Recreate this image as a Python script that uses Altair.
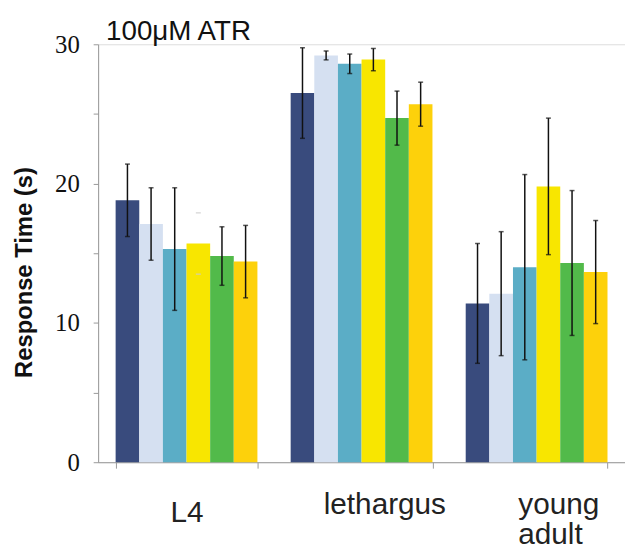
import altair as alt
import pandas as pd

groups = ["L4", "lethargus", "young adult"]
series = ["s1", "s2", "s3", "s4", "s5", "s6"]
colors = ["#394B7D", "#D5E0F1", "#5BADC6", "#F8E600", "#52BA4A", "#FDD10B"]

mean_l4 = [18.8, 17.1, 15.3, 15.7, 14.8, 14.4]
mean_leth = [26.5, 29.2, 28.6, 28.9, 24.7, 25.7]
mean_ya = [11.4, 12.1, 14.0, 19.8, 14.3, 13.65]

err_l4 = [2.6, 2.6, 4.4, 2.2, 2.1, 2.6]
err_leth = [3.25, 0.32, 0.7, 0.8, 1.94, 1.58]
err_ya = [4.3, 4.45, 6.65, 4.9, 5.2, 3.7]

rows = []
for g, ms, es in zip(groups, [mean_l4, mean_leth, mean_ya], [err_l4, err_leth, err_ya]):
    for s, m, e in zip(series, ms, es):
        rows.append({"group": g, "series": s, "mean": m, "lo": m - e, "hi": m + e})
df = pd.DataFrame(rows)

x = alt.X(
    "group:N",
    sort=groups,
    scale=alt.Scale(paddingInner=0.19, paddingOuter=0.1),
    axis=alt.Axis(
        title=None,
        labelAngle=0,
        domainColor="#999999",
        tickColor="#999999",
        tickSize=6,
        tickBand="extent",
        labelFont="Liberation Sans",
        labelFontSize=30,
        labelColor="#222222",
        labelBaseline="top",
        labelLineHeight=30,
        labelExpr="datum.label == 'young adult' ? ['young', 'adult'] : datum.label",
        labelAlign={"condition": {"test": "datum.value == 'young adult'", "value": "left"}, "value": "center"},
        labelOffset={"condition": [
            {"test": "datum.value == 'L4'", "value": 0},
            {"test": "datum.value == 'lethargus'", "value": 23}], "value": -19},
        labelPadding={"condition": [
            {"test": "datum.value == 'L4'", "value": 30},
            {"test": "datum.value == 'lethargus'", "value": 22}], "value": 22},
    ),
)
xo = alt.XOffset("series:N", sort=series, scale=alt.Scale(paddingInner=0, paddingOuter=0))

yscale = alt.Scale(domain=[0, 30], nice=False)
yaxis = alt.Axis(
    title="Response Time (s)",
    values=[0, 5, 10, 15, 20, 25, 30],
    labelExpr="datum.value % 10 == 0 ? datum.label : ''",
    grid=False,
    domainColor="#999999",
    tickColor="#999999",
    tickSize=5,
    labelPadding=14,
    labelFont="Liberation Serif",
    labelFontSize=25,
    labelColor="#111111",
    titleFont="Liberation Sans",
    titleFontSize=24,
    titleFontWeight="bold",
    titleColor="#111111",
    titleX=-74,
    titleY=230,
    titleAlign="center",
    titleBaseline="middle",
)

base = alt.Chart(df)

bars = base.mark_bar().encode(
    x=x,
    xOffset=xo,
    y=alt.Y("mean:Q", scale=yscale, axis=yaxis),
    color=alt.Color("series:N", sort=series, scale=alt.Scale(domain=series, range=colors), legend=None),
)

rules = base.transform_filter(
    "!(datum.group == 'L4' && datum.series == 's4')"
).mark_rule(color="#111111", strokeWidth=1.5).encode(
    x=x, xOffset=xo, y=alt.Y("lo:Q", scale=yscale), y2="hi:Q"
)

cap_color = alt.condition(
    "datum.group == 'L4' && datum.series == 's4'", alt.value("#cccccc"), alt.value("#111111")
)
caps_lo = base.mark_tick(size=5, thickness=1.5).encode(
    x=x, xOffset=xo, y=alt.Y("lo:Q", scale=yscale), color=cap_color
)
caps_hi = base.mark_tick(size=5, thickness=1.5).encode(
    x=x, xOffset=xo, y=alt.Y("hi:Q", scale=yscale), color=cap_color
)

chart = alt.layer(bars, rules, caps_lo, caps_hi).resolve_scale(color="independent").properties(
    width=532,
    height=422,
    autosize=alt.AutoSizeParams(type="none"),
    padding={"left": 91, "top": 34, "right": 0, "bottom": 87},
    title=alt.TitleParams(
        "100\u03bcM ATR",
        anchor="start",
        frame="group",
        font="Liberation Sans",
        fontSize=28,
        fontWeight="normal",
        color="#111111",
        offset=4,
        dx=8,
        dy=18,
    ),
).configure_view(stroke=None).configure(background="white")

chart.save("out.html", embed_options={"renderer": "svg", "actions": False})
